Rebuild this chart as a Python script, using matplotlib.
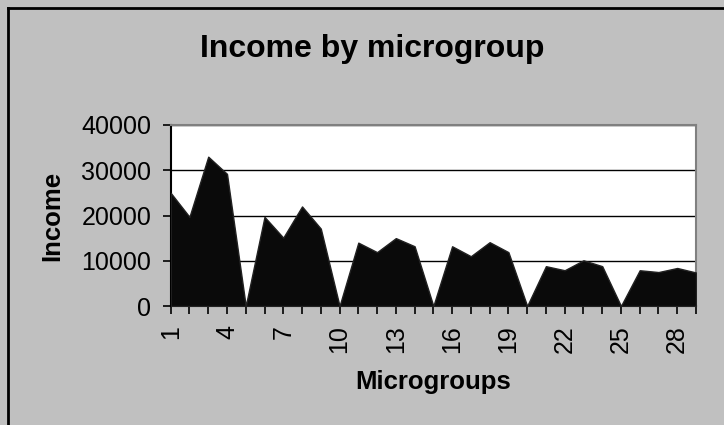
import matplotlib
matplotlib.use("Agg")
import matplotlib.pyplot as plt
from matplotlib.lines import Line2D
import numpy as np

plt.rcParams["font.family"] = ["Liberation Sans", "DejaVu Sans"]

# one value per microgroup
microgroups = np.arange(1, 30)
income = [25000, 19700, 33000, 29200, 0,
          19700, 15100, 22000, 17100, 0,
          14000, 11900, 15000, 13200, 0,
          13200, 11000, 14100, 11900, 0,
          8800, 7900, 10100, 8800, 0,
          7900, 7500, 8400, 7400]
y_ticks = [0, 10000, 20000, 30000, 40000]
labelled = microgroups[::3]

BG = "#c0c0c0"
W, H = 724, 425

fig = plt.figure(figsize=(W / 100, H / 100), dpi=100, facecolor=BG)
left, right, top, bottom = 170.7, 696, 125, 306
ax = fig.add_axes([left / W, 1 - bottom / H, (right - left) / W, (bottom - top) / H])
ax.set_facecolor("white")

ax.fill_between(microgroups, income, 0, color="#0a0a0a", edgecolor="#222222",
                linewidth=1.0, zorder=3)

ax.set_xlim(1, 29)
ax.set_ylim(0, 40000)
ax.set_yticks(y_ticks)
ax.set_yticklabels([str(v) for v in y_ticks])
ax.yaxis.grid(True, color="black", linewidth=1.0, zorder=1)
ax.set_axisbelow(True)

ax.set_xticks(microgroups)
ax.set_xticklabels([str(m) if m in labelled else "" for m in microgroups],
                   rotation=90)

ax.tick_params(axis="both", direction="out", length=6, width=1.2,
               color="black", labelsize=18, pad=8)

for side in ("top", "right"):
    ax.spines[side].set_color("#808080")
    ax.spines[side].set_linewidth(1.5)
for side in ("left", "bottom"):
    ax.spines[side].set_color("black")
    ax.spines[side].set_linewidth(1.5)

fig.text(372 / W, 1 - 49 / H, "Income by microgroup", ha="center", va="center",
         fontsize=23, fontweight="bold")
fig.text(433 / W, 1 - 382 / H, "Microgroups", ha="center", va="center",
         fontsize=18.5, fontweight="bold")
fig.text(52 / W, 1 - 216 / H, "Income", ha="center", va="center",
         rotation=90, fontsize=18.5, fontweight="bold")

# chart frame (only its left and top edges fall inside the picture)
fig.add_artist(Line2D([8 / W, 8 / W], [0, 1 - 8 / H], transform=fig.transFigure,
                      color="black", linewidth=2))
fig.add_artist(Line2D([8 / W, 1], [1 - 8 / H, 1 - 8 / H], transform=fig.transFigure,
                      color="black", linewidth=2))

fig.savefig("out.png", dpi=100, facecolor=BG)
